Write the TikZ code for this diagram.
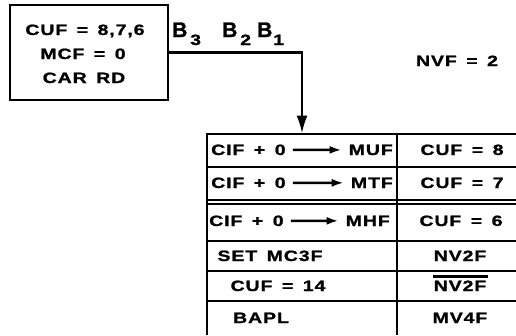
\documentclass[tikz,border=0pt]{standalone}
\usepackage{fontspec}
\newfontfamily\lett{Liberation Sans}[FakeStretch=1.3,LetterSpace=6,WordSpace=1.5,FakeBold=1.2]
\newfontfamily\lettn{Liberation Sans}[FakeBold=1.2]
\usetikzlibrary{arrows.meta}
\begin{document}
\begin{tikzpicture}[x=1pt,y=-1pt,
  txt/.style={font=\lett\bfseries\fontsize{15}{17}\selectfont, inner sep=0pt, anchor=base},
  bigb/.style={font=\lettn\bfseries\fontsize{21}{21}\selectfont, inner sep=0pt, anchor=base west},
  subn/.style={font=\lett\bfseries\fontsize{15}{17}\selectfont, inner sep=0pt, anchor=base west},
  rule/.style={line width=2.2pt},
  flow/.style={line width=2.4pt, -{Latex[length=18pt,width=11pt]}},
  inarrow/.style={line width=2.4pt, -{Latex[length=12pt,width=8pt]}}]
\useasboundingbox (0,0) rectangle (516,335);
% top-left box
\node[draw, rule, minimum width=158pt, minimum height=95pt, inner sep=0pt] (box) at (89,52.5) {};
\node[txt] (cufa) at (85,35) {CUF = 8,7,6};
\node[txt] (mcf) at (83,59) {MCF = 0};
\node[txt] (car) at (84,83) {CAR RD};
% B labels
\node[bigb] (b3) at (172,37) {B};
\node[subn] (s3) at (190,45) {3};
\node[bigb] (b2) at (222,37) {B};
\node[subn] (s2) at (240,45) {2};
\node[bigb] (b1) at (257,37) {B};
\node[subn] (s1) at (273,45) {1};
% NVF
\node[txt] (nvf) at (457,66) {NVF = 2};
% table
\coordinate (entry) at (302,133.5);
\draw[rule] (207,335) -- (207,134) -- (516,134);
\draw[rule] (397,134) -- (397,335);
\foreach \yy in {167,200,204,241,271,301} \draw[rule] (207,\yy) -- (516,\yy);
% connector
\draw[flow] (box.east) -| (entry);
% row 1
\node[txt, anchor=base west] (cif1) at (211,155) {CIF + 0};
\node[txt, anchor=base east] (muf) at (393,155) {MUF};
\draw[inarrow] ([xshift=7pt]cif1.east) -- ([xshift=-7pt]muf.west);
\node[txt] (cuf8) at (462,155) {CUF = 8};
% row 2
\node[txt, anchor=base west] (cif2) at (211,188) {CIF + 0};
\node[txt, anchor=base east] (mtf) at (393,188) {MTF};
\draw[inarrow] ([xshift=7pt]cif2.east) -- ([xshift=-7pt]mtf.west);
\node[txt] (cuf7) at (462,188) {CUF = 7};
% row 3
\node[txt, anchor=base west] (cif3) at (209,226) {CIF + 0};
\node[txt, anchor=base east] (mhf) at (390,226) {MHF};
\draw[inarrow] ([xshift=7pt]cif3.east) -- ([xshift=-7pt]mhf.west);
\node[txt] (cuf6) at (461,226) {CUF = 6};
% row 4
\node[txt] (set) at (270,261) {SET MC3F};
\node[txt] (nv2a) at (460,261) {NV2F};
% row 5
\node[txt] (cuf14) at (278,291) {CUF = 14};
\node[txt] (nv2b) at (460,291) {NV2F};
\draw[line width=2.8pt] ([xshift=-1pt,yshift=4pt]nv2b.north west) -- ([xshift=2pt,yshift=4pt]nv2b.north east);
% row 6
\node[txt] (bapl) at (261,323) {BAPL};
\node[txt] (mv4f) at (460,323) {MV4F};
\end{tikzpicture}
\end{document}
